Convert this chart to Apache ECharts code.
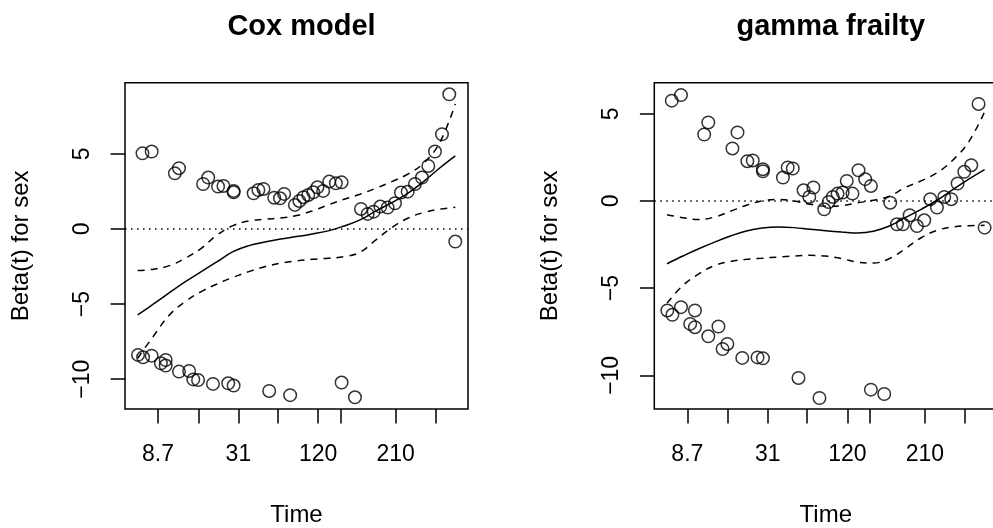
<!DOCTYPE html>
<html>
<head>
<meta charset="utf-8">
<script src="https://cdn.jsdelivr.net/npm/echarts@6/dist/echarts.min.js"></script>
<style>
html,body{margin:0;padding:0;background:#fff;}
#chart{width:993px;height:528px;}
</style>
</head>
<body>
<div id="chart"></div>
<script>
// transformed (KM-scale) time of each event, shared by both panels
const timeX = [0.001,0.015,0.017,0.044,0.044,0.073,0.088,0.088,0.117,0.130,0.130,0.162,0.175,0.190,0.206,0.222,0.237,0.253,0.270,0.285,0.302,0.302,0.302,0.365,0.380,0.396,0.414,0.430,0.448,0.461,0.480,0.495,0.509,0.522,0.537,0.553,0.566,0.584,0.603,0.624,0.642,0.642,0.684,0.703,0.724,0.743,0.764,0.787,0.810,0.829,0.850,0.873,0.895,0.915,0.936,0.958,0.981,1.000];
// scaled Schoenfeld residuals, Cox model
const coxBeta = [-8.38,5.03,-8.54,5.15,-8.43,-8.94,-8.72,-9.09,3.70,4.04,-9.49,-9.45,-10.01,-10.05,2.99,3.42,-10.31,2.82,2.86,-10.27,2.53,2.44,-10.42,2.37,2.59,2.66,-10.78,2.08,2.04,2.33,-11.06,1.60,1.86,2.11,2.26,2.44,2.77,2.53,3.15,3.04,3.10,-10.22,-11.20,1.33,1.00,1.15,1.49,1.42,1.71,2.42,2.48,2.99,3.42,4.19,5.15,6.30,8.96,-0.84];
// scaled Schoenfeld residuals, gamma frailty model
const frailBeta = [-6.28,5.75,-6.53,6.07,-6.09,-7.05,-6.28,-7.24,3.81,4.50,-7.76,-7.20,-8.49,-8.20,3.01,3.93,-9.00,2.28,2.32,-8.97,1.82,1.70,-9.02,1.34,1.92,1.86,-10.15,0.61,0.23,0.77,-11.30,-0.48,-0.06,0.23,0.42,0.48,1.15,0.42,1.76,1.25,0.86,-10.82,-11.07,-0.10,-1.34,-1.34,-0.82,-1.44,-1.11,0.10,-0.38,0.23,0.10,1.00,1.67,2.05,5.56,-1.53];

// smooth fit and confidence band
const curveX = [0,0.05,0.1,0.15,0.2,0.25,0.3,0.35,0.4,0.45,0.5,0.55,0.6,0.65,0.7,0.75,0.8,0.85,0.9,0.95,1.0];
const coxFit   = [-5.72,-4.99,-4.24,-3.51,-2.84,-2.18,-1.51,-1.11,-0.87,-0.67,-0.51,-0.33,-0.13,0.20,0.60,1.20,1.75,2.37,3.15,4.04,4.86];
const coxUpper = [-2.77,-2.68,-2.44,-1.95,-1.29,-0.40,0.22,0.53,0.64,0.73,0.89,1.20,1.60,1.97,2.31,2.71,3.15,3.64,4.37,5.70,8.32];
const coxLower = [-8.60,-7.12,-5.72,-4.83,-4.17,-3.66,-3.22,-2.84,-2.51,-2.28,-2.13,-2.02,-1.95,-1.84,-1.55,-0.73,0.09,0.71,1.09,1.31,1.44];
const frailFit   = [-3.60,-3.16,-2.74,-2.36,-2.01,-1.72,-1.55,-1.49,-1.53,-1.63,-1.71,-1.78,-1.84,-1.74,-1.44,-0.96,-0.48,0.04,0.65,1.25,1.80];
const frailUpper = [-0.79,-0.96,-1.07,-0.92,-0.59,-0.25,0.00,0.08,0.00,-0.19,-0.31,-0.27,-0.11,0.04,0.27,0.77,1.15,1.61,2.34,3.39,5.11];
const frailLower = [-5.86,-4.85,-4.18,-3.70,-3.47,-3.35,-3.28,-3.22,-3.16,-3.12,-3.16,-3.31,-3.51,-3.56,-3.31,-2.74,-2.11,-1.69,-1.49,-1.42,-1.40];

// x-axis ticks (transformed positions) and their time labels
const xTickPos = [0.064,0.191,0.317,0.441,0.568,0.639,0.812,0.937];
const xTickLabels = ["8.7","","31","","120","","210",""];
const yTicks = [-10,-5,0,5];

const FONT = '"Liberation Sans", Arial, Helvetica, sans-serif';
const pairs = (xs, ys) => xs.map((x, i) => [x, ys[i]]);
const labelPos = xTickPos.filter((p, i) => xTickLabels[i] !== "");
const fmtX = v => {
  let best = 0, d = Infinity;
  xTickPos.forEach((p, i) => { const dd = Math.abs(p - v); if (dd < d) { d = dd; best = i; } });
  return xTickLabels[best];
};

const grids = [
  {left:125, top:82.7, width:343, height:326.3},
  {left:654.3, top:82.7, width:343, height:326.3}
];
const yRanges = [[-11.98, 9.73], [-11.93, 6.78]];

function xAxis(gi){
  return {
    type:'value', gridIndex:gi, min:-0.04, max:1.04, position:'bottom',
    name:'Time', nameLocation:'middle', nameGap:94,
    nameTextStyle:{fontFamily:FONT, fontSize:24, color:'#000'},
    axisLine:{show:false, onZero:false},
    axisTick:{show:true, inside:false, length:14.4, customValues:xTickPos, lineStyle:{color:'#000', width:1.5}},
    axisLabel:{show:true, customValues:labelPos, formatter:fmtX, margin:34, fontFamily:FONT, fontSize:23, color:'#000'},
    splitLine:{show:false}
  };
}
function yAxis(gi){
  return {
    type:'value', gridIndex:gi, min:yRanges[gi][0], max:yRanges[gi][1], position:'left',
    name:'Beta(t) for sex', nameLocation:'middle', nameGap:92, nameRotate:90,
    nameTextStyle:{fontFamily:FONT, fontSize:24, color:'#000'},
    axisLine:{show:false, onZero:false},
    axisTick:{show:true, inside:false, length:14.4, customValues:yTicks, lineStyle:{color:'#000', width:1.5}},
    axisLabel:{show:true, customValues:yTicks, rotate:90, margin:31, fontFamily:FONT, fontSize:23, color:'#000',
      formatter: v => (v < 0 ? '\u2212' + Math.abs(v) : String(v))},
    splitLine:{show:false}
  };
}
function panelSeries(gi, ys, fit, up, lo){
  const base = {xAxisIndex:gi, yAxisIndex:gi, animation:false, silent:true};
  return [
    Object.assign({}, base, {
      type:'scatter', data:pairs(timeX, ys), symbol:'circle', symbolSize:12.5,
      itemStyle:{color:'rgba(0,0,0,0)', borderColor:'#000', borderWidth:1.5},
      markLine:{silent:true, symbol:['none','none'], label:{show:false},
        lineStyle:{color:'#000', width:1.5, type:[1.5,4.5]}, data:[{yAxis:0}]}
    }),
    Object.assign({}, base, {type:'line', data:pairs(curveX, fit), showSymbol:false, smooth:0.4,
      lineStyle:{color:'#000', width:1.5, type:'solid'}}),
    Object.assign({}, base, {type:'line', data:pairs(curveX, up), showSymbol:false, smooth:0.4,
      lineStyle:{color:'#000', width:1.5, type:[7,6]}}),
    Object.assign({}, base, {type:'line', data:pairs(curveX, lo), showSymbol:false, smooth:0.4,
      lineStyle:{color:'#000', width:1.5, type:[7,6]}})
  ];
}

const chart = echarts.init(document.getElementById('chart'), null, {renderer:'canvas'});
chart.setOption({
  animation:false,
  backgroundColor:'#fff',
  title:[
    {text:'Cox model', left:296.5, top:7, textAlign:'center',
      textStyle:{fontFamily:FONT, fontSize:29, fontWeight:'bold', color:'#000'}},
    {text:'gamma frailty', left:825.8, top:7, textAlign:'center',
      textStyle:{fontFamily:FONT, fontSize:29, fontWeight:'bold', color:'#000'}}
  ],
  grid: grids.map(g => Object.assign({show:true, borderColor:'#000', borderWidth:1.5, backgroundColor:'transparent',
    containLabel:false, outerBoundsMode:'none'}, g)),
  xAxis:[xAxis(0), xAxis(1)],
  yAxis:[yAxis(0), yAxis(1)],
  series:[].concat(
    panelSeries(0, coxBeta, coxFit, coxUpper, coxLower),
    panelSeries(1, frailBeta, frailFit, frailUpper, frailLower)
  )
});
</script>
</body>
</html>
